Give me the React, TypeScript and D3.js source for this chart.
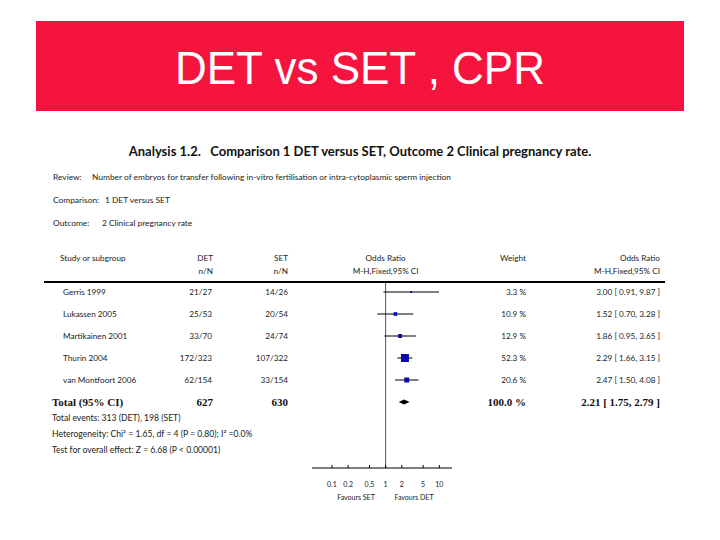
import React from "react";
import * as d3 from "d3";

const studies = ["Gerris 1999", "Lukassen 2005", "Martikainen 2001", "Thurin 2004", "van Montfoort 2006"];
const detNN = ["21/27", "25/53", "33/70", "172/323", "62/154"];
const setNN = ["14/26", "20/54", "24/74", "107/322", "33/154"];
const weights = [3.3, 10.9, 12.9, 52.3, 20.6];
const orEst = [3.0, 1.52, 1.86, 2.29, 2.47];
const orLo = [0.91, 0.7, 0.95, 1.66, 1.5];
const orHi = [9.87, 3.28, 3.65, 3.15, 4.08];
const total = { det: "627", set: "630", weight: 100.0, est: 2.21, lo: 1.75, hi: 2.79 };
const ticks = [0.1, 0.2, 0.5, 1, 2, 5, 10];
const tickLabels = ["0.1", "0.2", "0.5", "1", "2", "5", "10"];
const footnotes = [
  "Total events: 313 (DET), 198 (SET)",
  "Heterogeneity: Chi\u00B2 = 1.65, df = 4 (P = 0.80); I\u00B2 =0.0%",
  "Test for overall effect: Z = 6.68 (P < 0.00001)",
];

const sans = "Lato, 'Open Sans', sans-serif";
const serif = "'Liberation Serif', 'DejaVu Serif', serif";

export default function App() {
  const x = d3.scaleLog().domain([0.1, 10]).range([332, 439.3]);
  const y = d3.scaleLinear().domain([0, 1]).range([292, 314]);
  const side = d3.scaleSqrt().domain([0, 100]).range([0, 11]);
  const fmt2 = d3.format(".2f");
  const fmt1 = d3.format(".1f");
  const axisY = 468;
  const totalY = y(5);
  const diamond = d3.line()([
    [x(total.lo), totalY],
    [x(total.est), totalY - 2.5],
    [x(total.hi), totalY],
    [x(total.est), totalY + 2.5],
  ]) + "Z";
  const fs = 8.2;
  return (
    <svg width={720} height={540} style={{ position: "absolute", left: 0, top: 0 }}>
      <rect x={0} y={0} width={720} height={540} fill="#ffffff" />
      <rect x={36} y={21} width={648} height={90} fill="#F5143E" />
      <text x={175} y={84} textLength={370} lengthAdjust="spacingAndGlyphs" fill="#ffffff" fontFamily="'Liberation Sans', Arial, sans-serif" fontSize={46}>
        DET vs SET , CPR
      </text>

      <text x={360} y={156} textAnchor="middle" fontFamily={sans} fontWeight="bold" fontSize={13} fill="#111">
        Analysis 1.2.{"\u00A0\u00A0\u00A0"}Comparison 1 DET versus SET, Outcome 2 Clinical pregnancy rate.
      </text>
      <g fontFamily={sans} fontSize={8.4} fill="#222">
        <text x={53} y={180}>Review:</text>
        <text x={92} y={180}>Number of embryos for transfer following in-vitro fertilisation or intra-cytoplasmic sperm injection</text>
        <text x={53} y={203}>Comparison:</text>
        <text x={105} y={203}>1 DET versus SET</text>
        <text x={53} y={226}>Outcome:</text>
        <text x={102} y={226}>2 Clinical pregnancy rate</text>
      </g>

      <g fontFamily={sans} fontSize={fs} fill="#222">
        <text x={60} y={261}>Study or subgroup</text>
        <text x={213} y={261} textAnchor="end">DET</text>
        <text x={213} y={274} textAnchor="end">n/N</text>
        <text x={288} y={261} textAnchor="end">SET</text>
        <text x={288} y={274} textAnchor="end">n/N</text>
        <text x={x(1)} y={261} textAnchor="middle">Odds Ratio</text>
        <text x={x(1)} y={274} textAnchor="middle">M-H,Fixed,95% CI</text>
        <text x={526} y={261} textAnchor="end">Weight</text>
        <text x={660} y={261} textAnchor="end">Odds Ratio</text>
        <text x={660} y={274} textAnchor="end">M-H,Fixed,95% CI</text>
      </g>
      <line x1={44} x2={665} y1={282} y2={282} stroke="#000" strokeWidth={2} />

      <line x1={x(1)} x2={x(1)} y1={283} y2={axisY} stroke="#555" strokeWidth={1} />

      {studies.map((s, i) => {
        const cy = y(i);
        const sz = side(weights[i]);
        return (
          <g key={s}>
            <g fontFamily={sans} fontSize={fs} fill="#222">
              <text x={63} y={cy + 3}>{s}</text>
              <text x={212} y={cy + 3} textAnchor="end">{detNN[i]}</text>
              <text x={288} y={cy + 3} textAnchor="end">{setNN[i]}</text>
              <text x={526} y={cy + 3} textAnchor="end">{fmt1(weights[i])} %</text>
              <text x={660} y={cy + 3} textAnchor="end">
                {fmt2(orEst[i])} [ {fmt2(orLo[i])}, {fmt2(orHi[i])} ]
              </text>
            </g>
            <line x1={x(orLo[i])} x2={x(orHi[i])} y1={cy} y2={cy} stroke="#000" strokeWidth={1} />
            <rect x={x(orEst[i]) - sz / 2} y={cy - sz / 2} width={sz} height={sz} fill="#0a0aa8" />
          </g>
        );
      })}

      <g fontFamily={serif} fontWeight="bold" fontSize={11} fill="#111">
        <text x={52} y={totalY + 4}>Total (95% CI)</text>
        <text x={213} y={totalY + 4} textAnchor="end">{total.det}</text>
        <text x={288} y={totalY + 4} textAnchor="end">{total.set}</text>
        <text x={526} y={totalY + 4} textAnchor="end">{fmt1(total.weight)} %</text>
        <text x={660} y={totalY + 4} textAnchor="end">
          {fmt2(total.est)} [ {fmt2(total.lo)}, {fmt2(total.hi)} ]
        </text>
      </g>
      <path d={diamond} fill="#000" />

      <g fontFamily={sans} fontSize={8.6} fill="#222">
        {footnotes.map((f, i) => (
          <text key={i} x={52} y={421 + 16 * i}>{f}</text>
        ))}
      </g>

      <line x1={312} x2={452} y1={axisY} y2={axisY} stroke="#000" strokeWidth={1.2} />
      {ticks.map((t, i) => (
        <g key={t}>
          <line x1={x(t)} x2={x(t)} y1={axisY} y2={axisY - 3} stroke="#000" />
          <text x={x(t)} y={487} textAnchor="middle" fontFamily={sans} fontSize={7} fill="#222">
            {tickLabels[i]}
          </text>
        </g>
      ))}
      <text x={356} y={500} textAnchor="middle" fontFamily={sans} fontSize={7} fill="#222">Favours SET</text>
      <text x={414} y={500} textAnchor="middle" fontFamily={sans} fontSize={7} fill="#222">Favours DET</text>
    </svg>
  );
}
